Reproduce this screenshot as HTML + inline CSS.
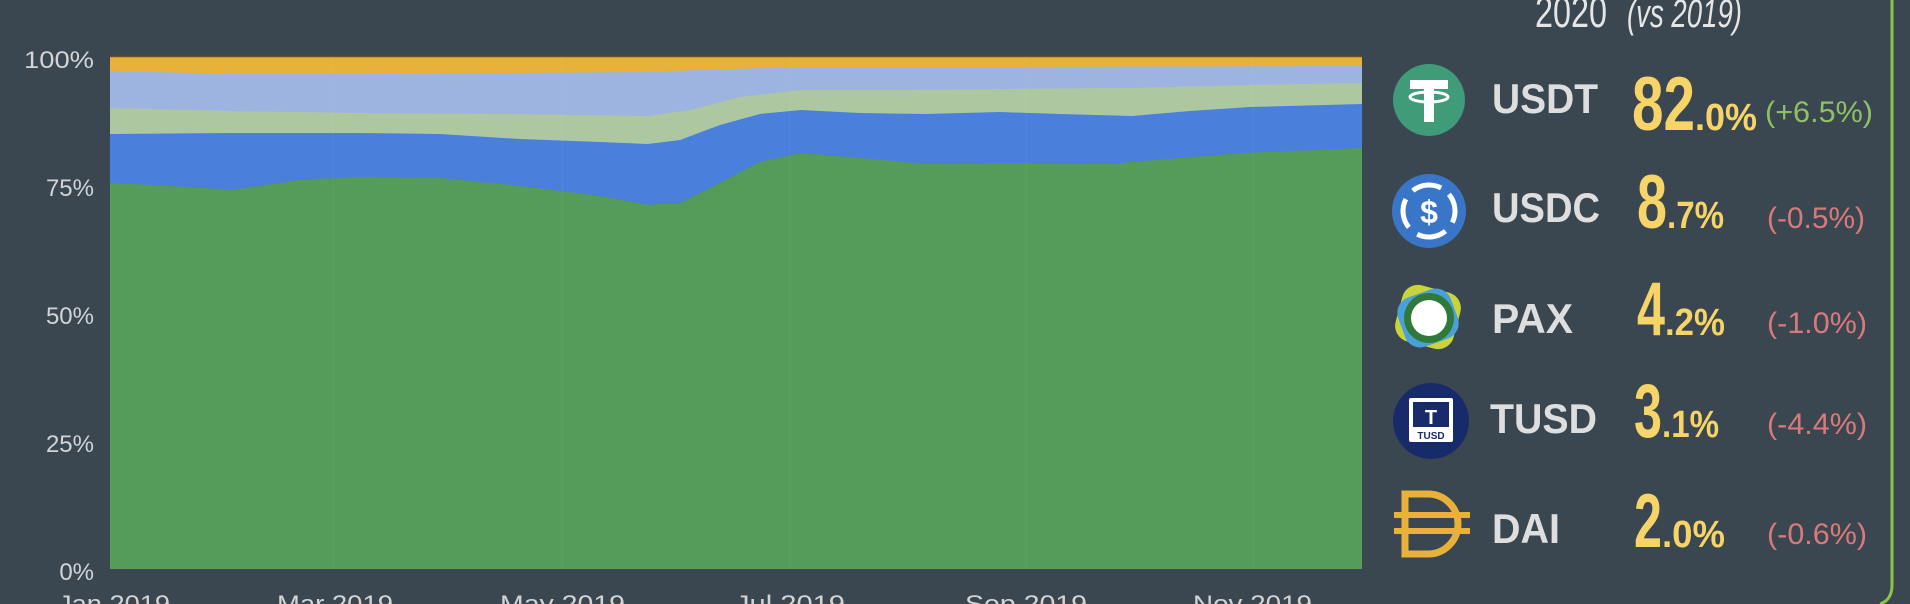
<!DOCTYPE html>
<html><head><meta charset="utf-8"><style>
html,body{margin:0;padding:0;background:#3a4650;}
svg{display:block}
</style></head><body>
<svg width="1910" height="604" viewBox="0 0 1910 604" xmlns="http://www.w3.org/2000/svg">
<rect width="1910" height="604" fill="#3a4650"/>
<!-- chart areas -->
<rect x="110" y="56" width="1252" height="513" fill="#e8b23a"/>
<line x1="110" y1="56.5" x2="1362" y2="56.5" stroke="#6b5030" stroke-width="1.5"/>
<polygon fill="#9db3e0" points="110,71 232,74 357,74 500,73 648,72 700,70 801,67 1000,67 1362,66 1362,569 110,569"/>
<polygon fill="#adc8a1" points="110,108 232,111 357,113 500,114 648,116 690,110 740,97 801,90 900,90 1000,89 1130,88 1250,85 1362,83 1362,569 110,569"/>
<polygon fill="#4a7fdb" points="110,134 232,133 357,133 440,134 520,139 600,142 648,144 680,140 720,125 760,114 801,110 860,113 925,114 1000,112 1060,114 1132,116 1190,111 1250,107 1362,104 1362,569 110,569"/>
<polygon fill="#559b5a" points="110,183 170,186 232,190 300,180 357,177 440,178 520,186 600,196 648,205 680,203 720,183 760,162 801,153 860,158 925,164 1000,163 1109,164 1180,158 1246,153 1362,148 1362,569 110,569"/>
<g stroke="#ffffff" stroke-opacity="0.05" stroke-width="1">
<line x1="333" y1="57" x2="333" y2="569"/><line x1="562" y1="57" x2="562" y2="569"/><line x1="790" y1="57" x2="790" y2="569"/><line x1="1026" y1="57" x2="1026" y2="569"/><line x1="1253" y1="57" x2="1253" y2="569"/>
</g>
<!-- y labels -->
<g font-family="Liberation Sans, sans-serif" font-size="24" fill="#d2d4d6" text-anchor="end">
<text x="94" y="68" textLength="70" lengthAdjust="spacingAndGlyphs">100%</text>
<text x="94" y="196">75%</text>
<text x="94" y="324">50%</text>
<text x="94" y="452">25%</text>
<text x="94" y="580">0%</text>
</g>
<g font-family="Liberation Sans, sans-serif" font-size="24" fill="#d2d4d6">
<text x="58" y="612" textLength="112" lengthAdjust="spacingAndGlyphs">Jan 2019</text>
<text x="277" y="612" textLength="116" lengthAdjust="spacingAndGlyphs">Mar 2019</text>
<text x="500" y="612" textLength="125" lengthAdjust="spacingAndGlyphs">May 2019</text>
<text x="735" y="612" textLength="110" lengthAdjust="spacingAndGlyphs">Jul 2019</text>
<text x="965" y="612" textLength="122" lengthAdjust="spacingAndGlyphs">Sep 2019</text>
<text x="1193" y="612" textLength="119" lengthAdjust="spacingAndGlyphs">Nov 2019</text>
</g>
<!-- right panel border -->
<path d="M1892,0 L1892,585 Q1892,600 1880,604" stroke="#8bc34a" stroke-width="3" fill="none"/>
<!-- header -->
<text x="1535" y="27" font-family="Liberation Sans, sans-serif" font-size="44" fill="#e6e6e6" textLength="72" lengthAdjust="spacingAndGlyphs">2020</text>
<text x="1627" y="27" font-family="Liberation Sans, sans-serif" font-style="italic" font-size="40" fill="#e6e6e6" textLength="115" lengthAdjust="spacingAndGlyphs">(vs 2019)</text>
<!-- icons -->
<circle cx="1429" cy="100" r="36" fill="#3f9b78"/>
<rect x="1410" y="80" width="38" height="9" fill="#fff"/>
<rect x="1424" y="80" width="10" height="42" fill="#fff"/>
<ellipse cx="1429" cy="97" rx="19" ry="5" fill="none" stroke="#fff" stroke-width="3"/>
<circle cx="1429" cy="211" r="37" fill="#3a76c8"/>
<circle cx="1429" cy="211" r="26" fill="none" stroke="#fff" stroke-width="5" stroke-dasharray="30 11" transform="rotate(-40 1429 211)"/>
<circle cx="1429" cy="211" r="18" fill="#3a76c8"/>
<text x="1429" y="223" font-family="Liberation Sans, sans-serif" font-weight="bold" font-size="32" fill="#fff" text-anchor="middle">$</text>
<rect x="1398" y="288" width="60" height="58" rx="16" fill="#c8d43a" transform="rotate(15 1428 317)"/>
<rect x="1400" y="292" width="56" height="52" rx="16" fill="#4aa0d8" transform="rotate(-20 1428 318)"/>
<circle cx="1429" cy="318" r="25" fill="#2f7a3a"/>
<circle cx="1429" cy="318" r="18" fill="#fff"/>
<circle cx="1431" cy="421" r="38" fill="#172b6b"/>
<rect x="1409" y="398" width="44" height="44" fill="#fff" rx="2"/>
<rect x="1413" y="402" width="36" height="25" fill="#172b6b"/>
<text x="1431" y="424" font-family="Liberation Sans, sans-serif" font-weight="bold" font-size="20" fill="#fff" text-anchor="middle">T</text>
<text x="1431" y="439" font-family="Liberation Sans, sans-serif" font-weight="bold" font-size="10" fill="#172b6b" text-anchor="middle">TUSD</text>
<path d="M1405,494 L1428,494 A30,30 0 0 1 1428,554 L1405,554 Z" fill="none" stroke="#e8b23a" stroke-width="7"/>
<rect x="1394" y="512" width="76" height="6" fill="#e8b23a"/>
<rect x="1394" y="528" width="76" height="6" fill="#e8b23a"/>
<!-- tickers -->
<g font-family="Liberation Sans, sans-serif" font-weight="bold" font-size="42" fill="#dedede">
<text x="1492" y="113" textLength="106" lengthAdjust="spacingAndGlyphs">USDT</text>
<text x="1492" y="222" textLength="108" lengthAdjust="spacingAndGlyphs">USDC</text>
<text x="1492" y="333" textLength="81" lengthAdjust="spacingAndGlyphs">PAX</text>
<text x="1490" y="433" textLength="107" lengthAdjust="spacingAndGlyphs">TUSD</text>
<text x="1492" y="543" textLength="68" lengthAdjust="spacingAndGlyphs">DAI</text>
</g>
<!-- big numbers -->
<g font-family="Liberation Sans, sans-serif" font-weight="bold" fill="#f6d468">
<text x="1632" y="130" font-size="76" textLength="63" lengthAdjust="spacingAndGlyphs">82</text>
<text x="1695" y="130" font-size="38" textLength="62" lengthAdjust="spacingAndGlyphs">.0%</text>
<text x="1637" y="228" font-size="76" textLength="30" lengthAdjust="spacingAndGlyphs">8</text>
<text x="1667" y="228" font-size="38" textLength="57" lengthAdjust="spacingAndGlyphs">.7%</text>
<text x="1637" y="335" font-size="76" textLength="28" lengthAdjust="spacingAndGlyphs">4</text>
<text x="1665" y="335" font-size="38" textLength="60" lengthAdjust="spacingAndGlyphs">.2%</text>
<text x="1634" y="437" font-size="76" textLength="28" lengthAdjust="spacingAndGlyphs">3</text>
<text x="1662" y="437" font-size="38" textLength="57" lengthAdjust="spacingAndGlyphs">.1%</text>
<text x="1634" y="547" font-size="76" textLength="28" lengthAdjust="spacingAndGlyphs">2</text>
<text x="1662" y="547" font-size="38" textLength="63" lengthAdjust="spacingAndGlyphs">.0%</text>
</g>
<!-- changes -->
<g font-family="Liberation Sans, sans-serif" font-size="30">
<text x="1765" y="122" fill="#8fc064" textLength="108" lengthAdjust="spacingAndGlyphs">(+6.5%)</text>
<text x="1767" y="228" fill="#d97a7a" textLength="98" lengthAdjust="spacingAndGlyphs">(-0.5%)</text>
<text x="1767" y="333" fill="#d97a7a" textLength="100" lengthAdjust="spacingAndGlyphs">(-1.0%)</text>
<text x="1767" y="434" fill="#d97a7a" textLength="100" lengthAdjust="spacingAndGlyphs">(-4.4%)</text>
<text x="1767" y="544" fill="#d97a7a" textLength="100" lengthAdjust="spacingAndGlyphs">(-0.6%)</text>
</g>
</svg>
</body></html>
